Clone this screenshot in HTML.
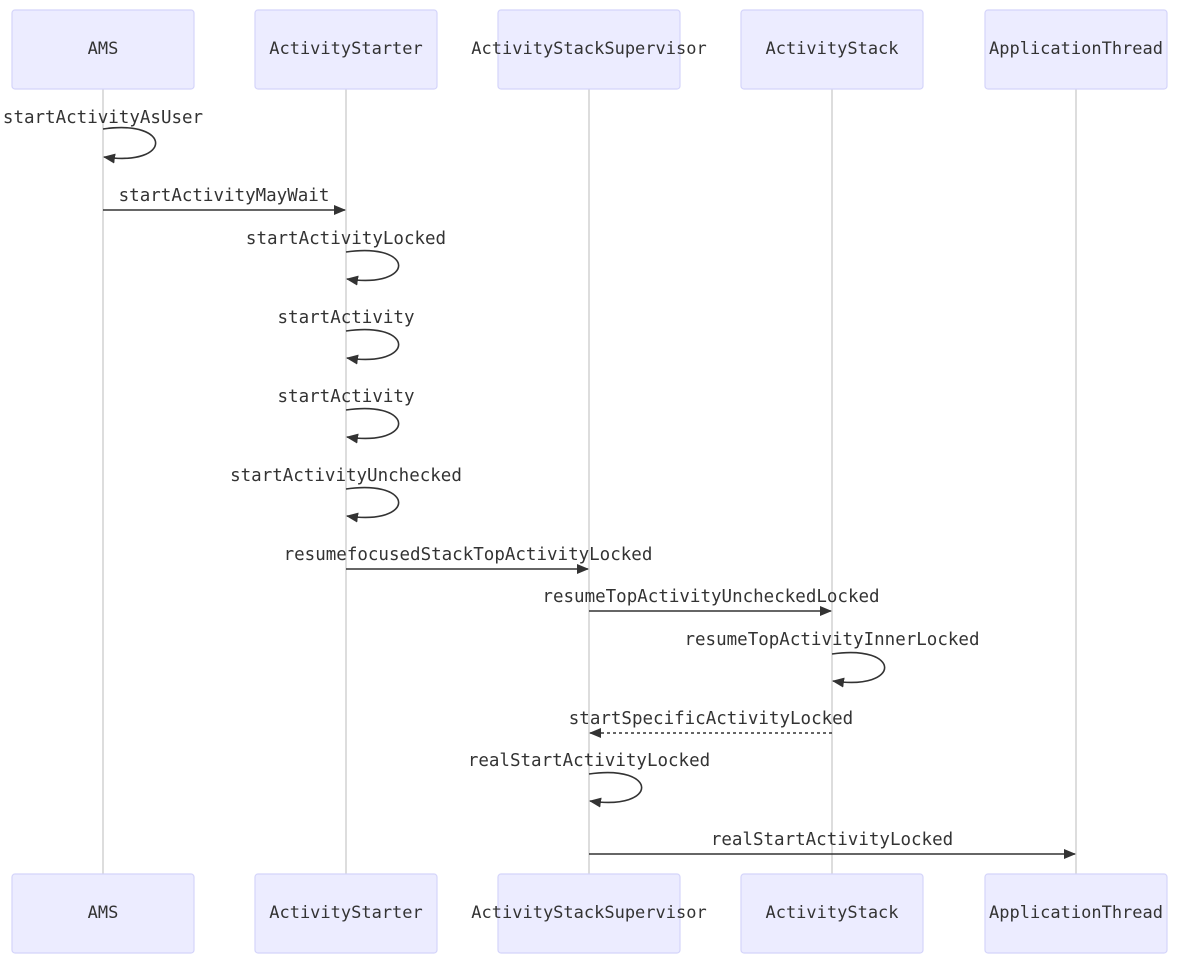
<!DOCTYPE html>
<html><head><meta charset="utf-8"><style>
html,body{margin:0;padding:0;background:#fff;}
text{font-family:"DejaVu Sans Mono","Liberation Mono",monospace;fill:#333;}
.a{font-size:17px;text-anchor:middle;dominant-baseline:central;}
.m{font-size:17.5px;text-anchor:middle;}
rect{fill:#ECECFF;stroke:#D4D4FA;stroke-width:1.2;}
.l{stroke:#bbb;stroke-width:1;}
.msg{stroke:#333;stroke-width:1.6;fill:none;}
</style></head><body>
<svg width="1185" height="963" viewBox="0 0 1185 963" xmlns="http://www.w3.org/2000/svg">
<defs><marker id="ar" viewBox="0 0 12 10" refX="11" refY="5" markerWidth="12" markerHeight="10" markerUnits="userSpaceOnUse" orient="auto"><path d="M0,0 L12,5 L0,10 z" fill="#333"/></marker></defs>
<g>
<line class="l" x1="103" y1="89" x2="103" y2="874"/>
<line class="l" x1="346" y1="89" x2="346" y2="874"/>
<line class="l" x1="589" y1="89" x2="589" y2="874"/>
<line class="l" x1="832" y1="89" x2="832" y2="874"/>
<line class="l" x1="1076" y1="89" x2="1076" y2="874"/>
</g>
<g>
<rect x="12" y="10" width="182" height="79" rx="3"/><text class="a" x="103" y="49">AMS</text>
<rect x="255" y="10" width="182" height="79" rx="3"/><text class="a" x="346" y="49">ActivityStarter</text>
<rect x="498" y="10" width="182" height="79" rx="3"/><text class="a" x="589" y="49">ActivityStackSupervisor</text>
<rect x="741" y="10" width="182" height="79" rx="3"/><text class="a" x="832" y="49">ActivityStack</text>
<rect x="985" y="10" width="182" height="79" rx="3"/><text class="a" x="1076" y="49">ApplicationThread</text>
<rect x="12" y="874" width="182" height="79" rx="3"/><text class="a" x="103" y="913">AMS</text>
<rect x="255" y="874" width="182" height="79" rx="3"/><text class="a" x="346" y="913">ActivityStarter</text>
<rect x="498" y="874" width="182" height="79" rx="3"/><text class="a" x="589" y="913">ActivityStackSupervisor</text>
<rect x="741" y="874" width="182" height="79" rx="3"/><text class="a" x="832" y="913">ActivityStack</text>
<rect x="985" y="874" width="182" height="79" rx="3"/><text class="a" x="1076" y="913">ApplicationThread</text>
</g>
<g>
<text class="m" x="103" y="123">startActivityAsUser</text>
<path class="msg" d="M103,129 C173,119 173,167 104,157" marker-end="url(#ar)"/>
<text class="m" x="224" y="201">startActivityMayWait</text>
<line class="msg" x1="103" y1="210" x2="345" y2="210" marker-end="url(#ar)"/>
<text class="m" x="346" y="244">startActivityLocked</text>
<path class="msg" d="M346,252 C416,242 416,289 347,279" marker-end="url(#ar)"/>
<text class="m" x="346" y="323">startActivity</text>
<path class="msg" d="M346,331 C416,321 416,368 347,358" marker-end="url(#ar)"/>
<text class="m" x="346" y="402">startActivity</text>
<path class="msg" d="M346,410 C416,400 416,447 347,437" marker-end="url(#ar)"/>
<text class="m" x="346" y="481">startActivityUnchecked</text>
<path class="msg" d="M346,489 C416,479 416,526 347,516" marker-end="url(#ar)"/>
<text class="m" x="468" y="560">resumefocusedStackTopActivityLocked</text>
<line class="msg" x1="346" y1="569" x2="588" y2="569" marker-end="url(#ar)"/>
<text class="m" x="711" y="602">resumeTopActivityUncheckedLocked</text>
<line class="msg" x1="589" y1="611" x2="831" y2="611" marker-end="url(#ar)"/>
<text class="m" x="832" y="645">resumeTopActivityInnerLocked</text>
<path class="msg" d="M832,654 C902,644 902,691 833,681" marker-end="url(#ar)"/>
<text class="m" x="711" y="724">startSpecificActivityLocked</text>
<line class="msg" x1="832" y1="733" x2="590" y2="733" stroke-dasharray="3,3" marker-end="url(#ar)"/>
<text class="m" x="589" y="766">realStartActivityLocked</text>
<path class="msg" d="M589,774 C659,764 659,811 590,801" marker-end="url(#ar)"/>
<text class="m" x="832" y="845">realStartActivityLocked</text>
<line class="msg" x1="589" y1="854" x2="1075" y2="854" marker-end="url(#ar)"/>
</g>
</svg>
</body></html>
